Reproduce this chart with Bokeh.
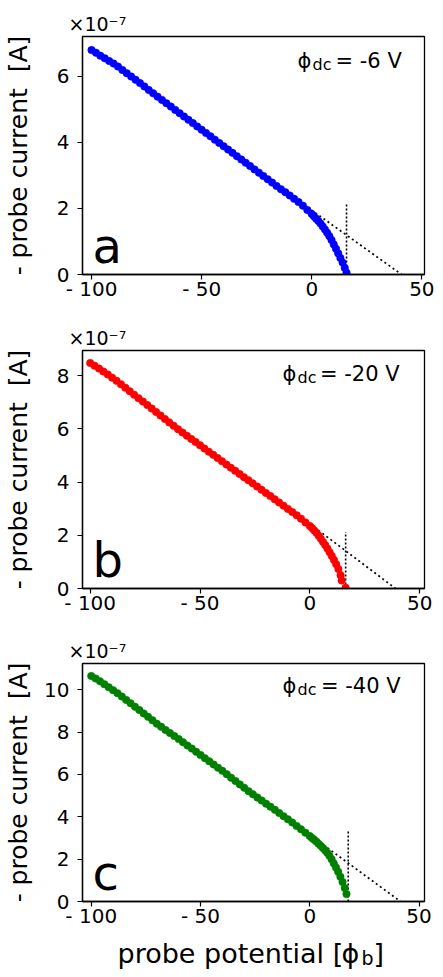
from bokeh.plotting import figure
from bokeh.models import Label, FixedTicker, Range1d, Title
from bokeh.layouts import column
from bokeh.embed import file_html
from bokeh.resources import INLINE

FONT = "DejaVu Sans"

# ---------------- data (current in units of 1e-7 A) ----------------
x_ticks = [-100, -50, 0, 50]
x_tick_labels = {-100: "- 100", -50: "- 50", 0: "0", 50: "50"}

panel_letters = ["a", "b", "c"]
dc_values = ["= -6 V", "= -20 V", "= -40 V"]
colors = ["#0000ff", "#ff0000", "#008000"]
y_ticks_a = [0, 2, 4, 6]
y_ticks_b = [0, 2, 4, 6, 8]
y_ticks_c = [0, 2, 4, 6, 8, 10]

a_potential = [-100, -98, -96, -94, -92, -90, -88, -86, -84, -82, -80, -78, -76, -74, -72, -70,
               -68, -66, -64, -62, -60, -58, -56, -54, -52, -50, -48, -46, -44, -42, -40, -38,
               -36, -34, -32, -30, -28, -26, -24, -22, -20, -18, -16, -14, -12, -10, -8, -6,
               -4, -2, 0, 1, 2, 3, 4, 5, 6, 7, 8, 9, 10, 11, 12, 13, 14, 15, 15.8]
a_current = [6.79, 6.71, 6.62, 6.54, 6.46, 6.38, 6.29, 6.19, 6.09, 5.99, 5.89, 5.79, 5.69, 5.58, 5.48, 5.38,
             5.28, 5.18, 5.08, 4.98, 4.88, 4.78, 4.68, 4.58, 4.48, 4.38, 4.28, 4.18, 4.08, 3.98, 3.88, 3.78,
             3.68, 3.58, 3.48, 3.38, 3.28, 3.18, 3.08, 2.98, 2.88, 2.78, 2.68, 2.58, 2.49, 2.39, 2.29, 2.19,
             2.08, 1.95, 1.83, 1.76, 1.69, 1.62, 1.54, 1.45, 1.36, 1.26, 1.16, 1.04, 0.91, 0.78, 0.64, 0.50, 0.36, 0.20, 0.05]
a_tangent_x = [-3.9, 40.8]
a_tangent_y = [2.13, 0.0]
a_float_x = [15.8, 15.8]
a_float_y = [0.0, 2.12]

b_potential = [-100, -98, -96, -94, -92, -90, -88, -86, -84, -82, -80, -78, -76, -74, -72, -70,
               -68, -66, -64, -62, -60, -58, -56, -54, -52, -50, -48, -46, -44, -42, -40, -38,
               -36, -34, -32, -30, -28, -26, -24, -22, -20, -18, -16, -14, -12, -10, -8, -6,
               -4, -2, 0, 1, 2, 3, 4, 5, 6, 7, 8, 9, 10, 11, 12, 13, 14, 14.5, 16.3]
b_current = [8.47, 8.37, 8.26, 8.15, 8.04, 7.92, 7.80, 7.67, 7.54, 7.41, 7.28, 7.15, 7.02, 6.89, 6.76, 6.63,
             6.50, 6.37, 6.24, 6.11, 5.98, 5.86, 5.74, 5.62, 5.50, 5.38, 5.26, 5.14, 5.02, 4.90, 4.78, 4.66,
             4.54, 4.42, 4.30, 4.18, 4.07, 3.95, 3.83, 3.71, 3.59, 3.47, 3.35, 3.23, 3.11, 2.99, 2.87, 2.75,
             2.62, 2.48, 2.35, 2.27, 2.18, 2.09, 1.98, 1.87, 1.75, 1.63, 1.50, 1.36, 1.22, 1.07, 0.91, 0.73, 0.50, 0.30, 0.03]
b_tangent_x = [0.3, 39.0]
b_tangent_y = [2.41, 0.0]
b_float_x = [16.3, 16.3]
b_float_y = [0.0, 2.12]

c_potential = [-100, -98, -96, -94, -92, -90, -88, -86, -84, -82, -80, -78, -76, -74, -72, -70,
               -68, -66, -64, -62, -60, -58, -56, -54, -52, -50, -48, -46, -44, -42, -40, -38,
               -36, -34, -32, -30, -28, -26, -24, -22, -20, -18, -16, -14, -12, -10, -8, -6,
               -4, -2, 0, 1, 2, 3, 4, 5, 6, 7, 8, 9, 10, 11, 12, 13, 14, 15, 16, 16.8]
c_current = [10.65, 10.53, 10.40, 10.26, 10.12, 9.98, 9.84, 9.68, 9.52, 9.36, 9.20, 9.04, 8.88, 8.72, 8.56, 8.40,
             8.25, 8.10, 7.96, 7.82, 7.67, 7.52, 7.37, 7.22, 7.07, 6.92, 6.77, 6.62, 6.47, 6.32, 6.17, 6.01,
             5.85, 5.69, 5.53, 5.37, 5.21, 5.06, 4.91, 4.77, 4.62, 4.48, 4.33, 4.18, 4.03, 3.88, 3.73, 3.57,
             3.41, 3.25, 3.09, 3.00, 2.92, 2.83, 2.73, 2.63, 2.53, 2.42, 2.30, 2.16, 1.99, 1.80, 1.60, 1.40, 1.17, 0.92, 0.64, 0.35]
c_tangent_x = [2.6, 41.5]
c_tangent_y = [2.95, 0.0]
c_float_x = [17.6, 17.6]
c_float_y = [0.0, 3.3]

W = 443
K = 0.346  # (ascent - descent) / 2 for DejaVu Sans, in em


def lab(p, text, x, baseline, size):
    # text is centred on y; shift so that the alphabetic baseline lands at `baseline`
    p.add_layout(Label(x=x, y=baseline + K * size, x_units="screen", y_units="screen", text=text,
                       text_font=FONT, text_font_size=f"{size}px", text_color="black",
                       text_align="left", text_baseline="middle", text_line_height=1.0))


def make_panel(i, xs, ys, tx, ty, fx, fy, xr, yr, yticks, border_top, border_bottom,
               title_pos, ylab_standoff):
    p = figure(width=W, height=border_top + 238 + border_bottom, output_backend="svg",
               toolbar_location=None, x_range=Range1d(*xr), y_range=Range1d(*yr),
               min_border_left=82, min_border_right=19, min_border_top=border_top,
               min_border_bottom=border_bottom)
    p.grid.visible = False
    p.outline_line_color = "black"
    p.outline_line_width = 1.3
    p.background_fill_color = "white"
    p.border_fill_color = "white"

    p.line(tx, ty, line_color="black", line_width=1.7, line_dash="2 3")
    p.line(fx, fy, line_color="black", line_width=1.6, line_dash="2 2")
    p.scatter(xs, ys, size=7.5, fill_color=colors[i], line_color=colors[i], line_width=0.5)

    for ax in (p.xaxis[0], p.yaxis[0]):
        ax.axis_line_color = "black"
        ax.axis_line_width = 1.3
        ax.major_tick_line_color = "black"
        ax.major_tick_line_width = 1.2
        ax.major_tick_in = 0
        ax.major_tick_out = 5
        ax.minor_tick_line_color = None
        ax.major_label_text_font = FONT
        ax.major_label_text_font_size = "20px"
        ax.major_label_text_color = "black"

    p.xaxis.ticker = FixedTicker(ticks=x_ticks)
    p.xaxis.major_label_overrides = x_tick_labels
    p.xaxis.major_label_standoff = -3
    p.yaxis.ticker = FixedTicker(ticks=yticks)
    p.yaxis.major_label_standoff = 8
    p.yaxis.axis_label = "- probe current\u00a0 [A]"
    p.yaxis.axis_label_text_font = FONT
    p.yaxis.axis_label_text_font_size = "25px"
    p.yaxis.axis_label_text_font_style = "normal"
    p.yaxis.axis_label_text_color = "black"
    p.yaxis.axis_label_standoff = ylab_standoff

    # exponent of the y axis, above the frame
    p.add_layout(Title(text="\u00d710\u207b\u2077", align="left", offset=-14, standoff=3,
                       text_font=FONT, text_font_size="19px", text_font_style="normal",
                       text_color="black"), "above")

    # panel letter
    lab(p, panel_letters[i], 10, 12, 48)

    # phi_dc annotation
    phx, dcx, eqx, by = title_pos
    lab(p, "\u03d5", phx, by, 21)
    lab(p, "dc", dcx, by - 2, 16)
    lab(p, dc_values[i], eqx, by, 21)
    return p


pa = make_panel(0, a_potential, a_current, a_tangent_x, a_tangent_y, a_float_x, a_float_y,
                (-104.1, 51.2), (0, 7.2), y_ticks_a, 36, 48, (215, 230, 253, 206), 21)
pb = make_panel(1, b_potential, b_current, b_tangent_x, b_tangent_y, b_float_x, b_float_y,
                (-103.5, 52.2), (0, 8.94), y_ticks_b, 28, 47, (200, 215, 237.5, 207), 21)
pc = make_panel(2, c_potential, c_current, c_tangent_x, c_tangent_y, c_float_x, c_float_y,
                (-104.0, 52.5), (0, 11.24), y_ticks_c, 28, 34, (200, 215, 238.5, 208), 8)

# strip below the last panel carrying the x-axis title (frame aligned with the panels)
sx = figure(width=W, height=42, output_backend="svg", toolbar_location=None,
            x_axis_type=None, y_axis_type=None, x_range=Range1d(0, 1), y_range=Range1d(0, 1),
            min_border_left=82, min_border_right=19, min_border_top=0, min_border_bottom=0)
sx.grid.visible = False
sx.outline_line_color = None
sx.background_fill_color = "white"
sx.border_fill_color = "white"
lab(sx, "probe potential [", 35, 15, 27)
lab(sx, "\u03d5", 259, 15, 27)
lab(sx, "b", 279, 13, 19)
lab(sx, "]", 291, 15, 27)

layout = column(pa, pb, pc, sx, spacing=0)
open("out.html", "w").write(file_html(layout, INLINE))
